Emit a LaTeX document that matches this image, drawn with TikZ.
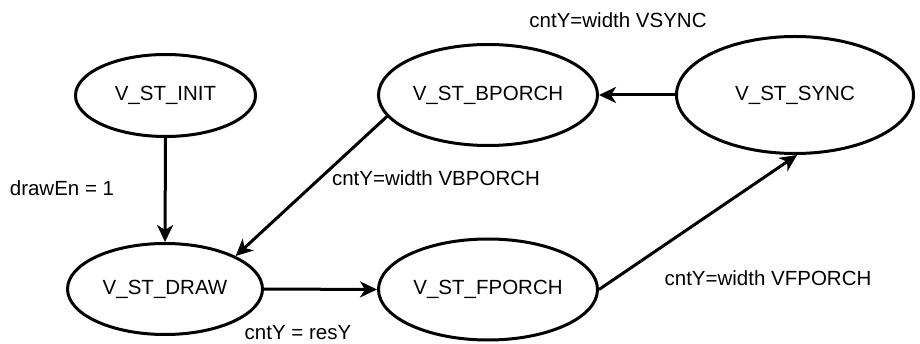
\documentclass[tikz,border=0pt]{standalone}
\usepackage{fontspec}
\setmainfont{Liberation Sans}
\usetikzlibrary{shapes.geometric,arrows.meta}
\begin{document}
\begin{tikzpicture}[x=1pt,y=-1pt,
  state/.style={ellipse,draw,line width=3pt,inner sep=0pt,
    font=\fontsize{20.5}{24}\selectfont},
  trans/.style={line width=3pt,-{Stealth[length=17pt,width=16pt,inset=5pt]}},
  lbl/.style={font=\fontsize{20.5}{24}\selectfont,inner sep=0pt}]
\useasboundingbox (0,0) rectangle (920,344);
% states
\node[state,minimum width=180pt,minimum height=82pt] (init) at (165.5,95.5) {V\_ST\_INIT};
\node[state,minimum width=219pt,minimum height=101pt] (bporch) at (488,95) {V\_ST\_BPORCH};
\node[state,minimum width=237pt,minimum height=117pt] (sync) at (795,95) {V\_ST\_SYNC};
\node[state,minimum width=195pt,minimum height=91pt] (draw) at (165,289) {V\_ST\_DRAW};
\node[state,minimum width=219pt,minimum height=101pt] (fporch) at (488,289.5) {V\_ST\_FPORCH};
% transitions
\draw[trans] (init.south) -- (draw.north);
\draw[trans] (sync.west) -- (bporch.east);
\draw[trans] (bporch.192) -- (draw.25);
\draw[trans] (draw.east) -- (fporch.west);
\draw[trans] (fporch.east) -- (sync.-88);
% transition labels
\node[lbl] (lsync) at (618,20) {cntY=width VSYNC};
\node[lbl] (len) at (62,188) {drawEn = 1};
\node[lbl] (lbp) at (436,178) {cntY=width VBPORCH};
\node[lbl] (lres) at (298,333) {cntY = resY};
\node[lbl] (lfp) at (768,278) {cntY=width VFPORCH};
\end{tikzpicture}
\end{document}
